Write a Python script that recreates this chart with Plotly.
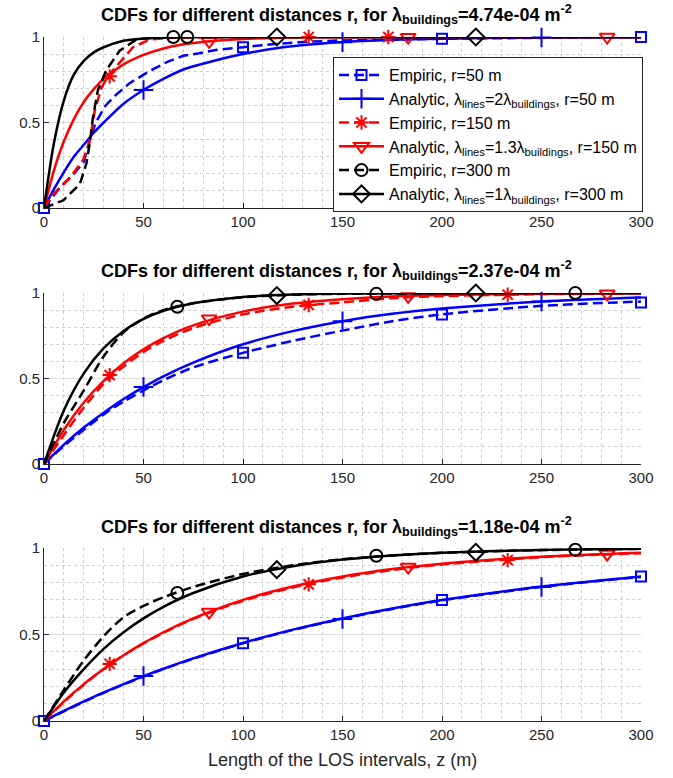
import plotly.graph_objects as go

# ---------------- data ----------------
X_TICKS = [0, 50, 100, 150, 200, 250, 300]
Y_TICKS = [0, 0.5, 1]
Y_TICK_LABELS = ["0", "0.5", "1"]

TITLES = [
    "<b>CDFs for different distances r, for λ<sub>buildings</sub>=4.74e-04 m<sup>-2</sup></b>",
    "<b>CDFs for different distances r, for λ<sub>buildings</sub>=2.37e-04 m<sup>-2</sup></b>",
    "<b>CDFs for different distances r, for λ<sub>buildings</sub>=1.18e-04 m<sup>-2</sup></b>",
]
X_LABEL = "Length of the LOS intervals, z (m)"

LEGEND_NAMES = [
    "Empiric, r=50 m",
    "Analytic, λ<sub>lines</sub>=2λ<sub>buildings</sub>, r=50 m",
    "Empiric, r=150 m",
    "Analytic, λ<sub>lines</sub>=1.3λ<sub>buildings</sub>, r=150 m",
    "Empiric, r=300 m",
    "Analytic, λ<sub>lines</sub>=1λ<sub>buildings</sub>, r=300 m",
]

# ---- panel 1 (lambda = 4.74e-04) ----
p1_an_x = [0, 5, 10, 15, 20, 25, 30, 40, 50, 60, 70, 85, 100, 120, 140, 160, 180, 200, 230, 260, 300]
p1_blue_an_y = [0, 0.11, 0.21, 0.30, 0.37, 0.44, 0.50, 0.61, 0.69, 0.755, 0.81, 0.86, 0.90, 0.94, 0.962, 0.976, 0.985, 0.99, 0.995, 0.998, 0.999]
p1_red_an_y = [0, 0.22, 0.39, 0.52, 0.62, 0.695, 0.755, 0.84, 0.895, 0.933, 0.957, 0.977, 0.988, 0.995, 0.998, 0.999, 1.0, 1.0, 1.0, 1.0, 1.0]
p1_black_an_y = [0, 0.38, 0.63, 0.78, 0.86, 0.91, 0.94, 0.978, 0.991, 0.997, 0.999, 1.0, 1.0, 1.0, 1.0, 1.0, 1.0, 1.0, 1.0, 1.0, 1.0]

p1_blue_emp_x = [0, 8, 15, 20, 23, 26, 31, 36, 43, 53, 62, 70, 78, 87, 100, 112, 128, 150, 200, 250, 300]
p1_blue_emp_y = [0, 0.12, 0.20, 0.27, 0.40, 0.50, 0.60, 0.66, 0.73, 0.80, 0.855, 0.89, 0.905, 0.925, 0.94, 0.955, 0.97, 0.98, 0.99, 0.996, 1.0]
p1_red_emp_x = [0, 4.5, 12.6, 19.6, 23, 25.5, 28.8, 32, 38, 44.7, 53, 65, 80, 100, 150, 300]
p1_red_emp_y = [0, 0.08, 0.17, 0.28, 0.39, 0.57, 0.70, 0.77, 0.85, 0.94, 0.985, 0.995, 0.998, 1.0, 1.0, 1.0]
p1_black_emp_x = [0, 9.7, 18, 21.3, 23, 24.6, 27.1, 31.3, 38, 46.4, 55, 65, 80, 300]
p1_black_emp_y = [0, 0.045, 0.14, 0.26, 0.38, 0.53, 0.69, 0.805, 0.92, 0.985, 0.995, 1.0, 1.0, 1.0]

p1_mk = {
    "blue_emp": ([0, 100, 200, 300], [0, 0.94, 0.99, 1.0]),
    "blue_an": ([50, 150, 250], [0.69, 0.97, 0.997]),
    "red_emp": ([33, 133, 173], [0.77, 1.0, 1.0]),
    "red_an": ([83, 183, 283], [0.975, 0.999, 1.0]),
    "black_emp": ([65, 72], [1.0, 1.0]),
    "black_an": ([117, 217], [1.0, 1.0]),
}

# ---- panel 2 (lambda = 2.37e-04) ----
p2_x = [0, 10, 20, 30, 40, 50, 60, 75, 100, 125, 150, 175, 200, 250, 300]
p2_blue_an_y = [0, 0.113, 0.213, 0.30, 0.38, 0.45, 0.513, 0.593, 0.70, 0.777, 0.835, 0.878, 0.909, 0.95, 0.973]
p2_blue_emp_y = [0, 0.105, 0.20, 0.29, 0.365, 0.43, 0.49, 0.565, 0.65, 0.72, 0.78, 0.835, 0.875, 0.925, 0.95]
p2_red_an_y = [0, 0.20, 0.36, 0.486, 0.589, 0.67, 0.736, 0.811, 0.891, 0.938, 0.964, 0.98, 0.988, 0.996, 0.999]
p2_red_emp_y = [0, 0.17, 0.33, 0.47, 0.57, 0.655, 0.72, 0.795, 0.875, 0.92, 0.945, 0.97, 0.982, 0.993, 0.997]
p2_black_an_y = [0, 0.314, 0.53, 0.677, 0.778, 0.848, 0.896, 0.94, 0.977, 0.991, 0.9965, 0.9986, 0.9995, 1.0, 1.0]
p2_black_emp_y = [0, 0.24, 0.43, 0.63, 0.77, 0.85, 0.90, 0.94, 0.975, 0.99, 0.995, 0.997, 0.999, 1.0, 1.0]

p2_mk = {
    "blue_emp": ([0, 100, 200, 300], [0, 0.65, 0.875, 0.945]),
    "blue_an": ([50, 150, 250], [0.45, 0.835, 0.95]),
    "red_emp": ([33, 133, 233], [0.52, 0.93, 0.99]),
    "red_an": ([83, 183, 283], [0.85, 0.98, 0.995]),
    "black_emp": ([67, 167, 267], [0.92, 0.995, 1.0]),
    "black_an": ([117, 217], [0.985, 1.0]),
}

# ---- panel 3 (lambda = 1.18e-04) ----
p3_x = [0, 10, 20, 30, 40, 50, 60, 75, 100, 125, 150, 175, 200, 250, 300]
p3_blue_an_y = [0, 0.058, 0.113, 0.165, 0.213, 0.259, 0.302, 0.362, 0.451, 0.528, 0.593, 0.65, 0.699, 0.777, 0.835]
p3_blue_emp_y = [0, 0.056, 0.111, 0.163, 0.211, 0.257, 0.30, 0.36, 0.449, 0.526, 0.591, 0.648, 0.697, 0.775, 0.833]
p3_red_an_y = [0, 0.113, 0.213, 0.30, 0.38, 0.45, 0.513, 0.593, 0.70, 0.777, 0.835, 0.878, 0.909, 0.95, 0.973]
p3_red_emp_y = [0, 0.11, 0.21, 0.30, 0.38, 0.448, 0.51, 0.59, 0.695, 0.772, 0.83, 0.873, 0.905, 0.947, 0.97]
p3_black_an_y = [0, 0.165, 0.30, 0.417, 0.513, 0.593, 0.66, 0.74, 0.835, 0.895, 0.933, 0.957, 0.973, 0.989, 0.995]
p3_black_emp_y = [0, 0.18, 0.35, 0.49, 0.60, 0.665, 0.715, 0.775, 0.85, 0.90, 0.935, 0.957, 0.972, 0.988, 0.995]

p3_mk = {
    "blue_emp": ([0, 100, 200, 300], [0, 0.45, 0.70, 0.835]),
    "blue_an": ([50, 150, 250], [0.26, 0.59, 0.775]),
    "red_emp": ([33, 133, 233], [0.33, 0.79, 0.93]),
    "red_an": ([83, 183, 283], [0.63, 0.89, 0.965]),
    "black_emp": ([67, 167, 267], [0.74, 0.955, 0.99]),
    "black_an": ([117, 217], [0.875, 0.975]),
}

# ---------------- styling ----------------
BLUE, RED, BLACK = "#0000ff", "#ff0000", "#000000"
AX = "#262626"
FONT = "Liberation Sans, Arial, Helvetica, sans-serif"
LW = 2.5
DASH = "10px,5px"

STYLE = {
    "blue_emp": (BLUE, DASH, "square-open", 10),
    "blue_an": (BLUE, "solid", "cross-thin-open", 14),
    "red_emp": (RED, DASH, "asterisk-open", 12),
    "red_an": (RED, "solid", "triangle-down-open", 13),
    "black_emp": (BLACK, DASH, "circle-open", 12),
    "black_an": (BLACK, "solid", "diamond-open", 13),
}
ORDER = ["blue_emp", "blue_an", "red_emp", "red_an", "black_emp", "black_an"]

panels = [
    {
        "curves": {
            "blue_emp": (p1_blue_emp_x, p1_blue_emp_y, "linear"),
            "blue_an": (p1_an_x, p1_blue_an_y, "spline"),
            "red_emp": (p1_red_emp_x, p1_red_emp_y, "linear"),
            "red_an": (p1_an_x, p1_red_an_y, "spline"),
            "black_emp": (p1_black_emp_x, p1_black_emp_y, "linear"),
            "black_an": (p1_an_x, p1_black_an_y, "spline"),
        },
        "markers": p1_mk,
    },
    {
        "curves": {
            "blue_emp": (p2_x, p2_blue_emp_y, "spline"),
            "blue_an": (p2_x, p2_blue_an_y, "spline"),
            "red_emp": (p2_x, p2_red_emp_y, "spline"),
            "red_an": (p2_x, p2_red_an_y, "spline"),
            "black_emp": (p2_x, p2_black_emp_y, "spline"),
            "black_an": (p2_x, p2_black_an_y, "spline"),
        },
        "markers": p2_mk,
    },
    {
        "curves": {
            "blue_emp": (p3_x, p3_blue_emp_y, "spline"),
            "blue_an": (p3_x, p3_blue_an_y, "spline"),
            "red_emp": (p3_x, p3_red_emp_y, "spline"),
            "red_an": (p3_x, p3_red_an_y, "spline"),
            "black_emp": (p3_x, p3_black_emp_y, "spline"),
            "black_an": (p3_x, p3_black_an_y, "spline"),
        },
        "markers": p3_mk,
    },
]

# pixel layout (page body margin is removed in post_script)
W, H = 673, 778
ML, MT = 44, 37
MR = W - 641
MB = H - 721
PH = 721 - 37
PW = 641 - 44


def py(pix):  # screen pixel row -> paper fraction
    return (721 - pix) / PH


def px(pix):  # screen pixel column -> paper fraction
    return (pix - 44) / PW


domains = [[py(208), py(37)], [py(464), py(293)], [py(721), py(548)]]
title_y_px = [15, 270, 526]

fig = go.Figure()

for i, pan in enumerate(panels):
    xa = "x" if i == 0 else f"x{i+1}"
    ya = "y" if i == 0 else f"y{i+1}"
    for key in ORDER:
        color, dash, sym, size = STYLE[key]
        cx, cy, shape = pan["curves"][key]
        fig.add_trace(go.Scatter(
            x=cx, y=cy, mode="lines", xaxis=xa, yaxis=ya,
            line=dict(color=color, width=LW, dash=dash, shape=shape, smoothing=0.8),
            showlegend=False, cliponaxis=False, hoverinfo="skip"))
        mx, my = pan["markers"][key]
        fig.add_trace(go.Scatter(
            x=mx, y=my, mode="markers", xaxis=xa, yaxis=ya,
            marker=dict(symbol=sym, size=size, color=color,
                        line=dict(color=color, width=2)),
            showlegend=False, cliponaxis=False, hoverinfo="skip"))

# legend-only entries (panel 1)
for key, name in zip(ORDER, LEGEND_NAMES):
    color, dash, sym, size = STYLE[key]
    fig.add_trace(go.Scatter(
        x=[None], y=[None], mode="lines+markers", name=name, xaxis="x", yaxis="y",
        line=dict(color=color, width=LW, dash=dash),
        marker=dict(symbol=sym, size=size, color=color, line=dict(color=color, width=2))))

axis_common = dict(
    showline=True, linecolor=AX, linewidth=1, mirror=False,
    ticks="inside", ticklen=5, tickwidth=1, tickcolor=AX,
    showgrid=True, gridcolor="#dedede", gridwidth=1, zeroline=False,
    tickfont=dict(family=FONT, size=15, color=AX),
    automargin=False,
)

layout = dict(
    width=W, height=H,
    margin=dict(l=ML, r=MR, t=MT, b=MB, autoexpand=False),
    paper_bgcolor="white", plot_bgcolor="white",
    font=dict(family=FONT, color=AX),
    showlegend=True,
    hovermode=False,
    legend=dict(
        x=px(643), y=py(57), xanchor="right", yanchor="top",
        bgcolor="white", bordercolor=AX, borderwidth=1,
        font=dict(family=FONT, size=16, color="#000000"),
        itemwidth=45, tracegroupgap=0,
    ),
    annotations=[],
)

for i in range(3):
    xk = "xaxis" if i == 0 else f"xaxis{i+1}"
    yk = "yaxis" if i == 0 else f"yaxis{i+1}"
    ya = "y" if i == 0 else f"y{i+1}"
    xa = "x" if i == 0 else f"x{i+1}"
    layout[xk] = dict(
        axis_common, domain=[0, 1], anchor=ya, range=[0, 300],
        tickvals=X_TICKS, ticktext=[str(v) for v in X_TICKS],
        minor=dict(dtick=10, tick0=0, showgrid=True, gridcolor="#cfcfcf",
                   griddash="dot", gridwidth=1, ticks=""),
    )
    layout[yk] = dict(
        axis_common, domain=domains[i], anchor=xa, range=[0, 1],
        tickvals=Y_TICKS, ticktext=Y_TICK_LABELS,
        minor=dict(dtick=0.1, tick0=0, showgrid=True, gridcolor="#cfcfcf",
                   griddash="dot", gridwidth=1, ticks=""),
    )
    layout["annotations"].append(dict(
        text=TITLES[i], xref="paper", yref="paper", x=px(336), y=py(title_y_px[i]),
        xanchor="center", yanchor="middle", showarrow=False,
        font=dict(family=FONT, size=18, color="#000000")))

layout["annotations"].append(dict(
    text=X_LABEL, xref="paper", yref="paper", x=px(342), y=py(760),
    xanchor="center", yanchor="middle", showarrow=False,
    font=dict(family=FONT, size=18, color=AX)))

fig.update_layout(**layout)
fig.write_html(
    "out.html",
    config={"displayModeBar": False},
    post_script="document.body.style.margin='0';document.body.style.padding='0';",
)
